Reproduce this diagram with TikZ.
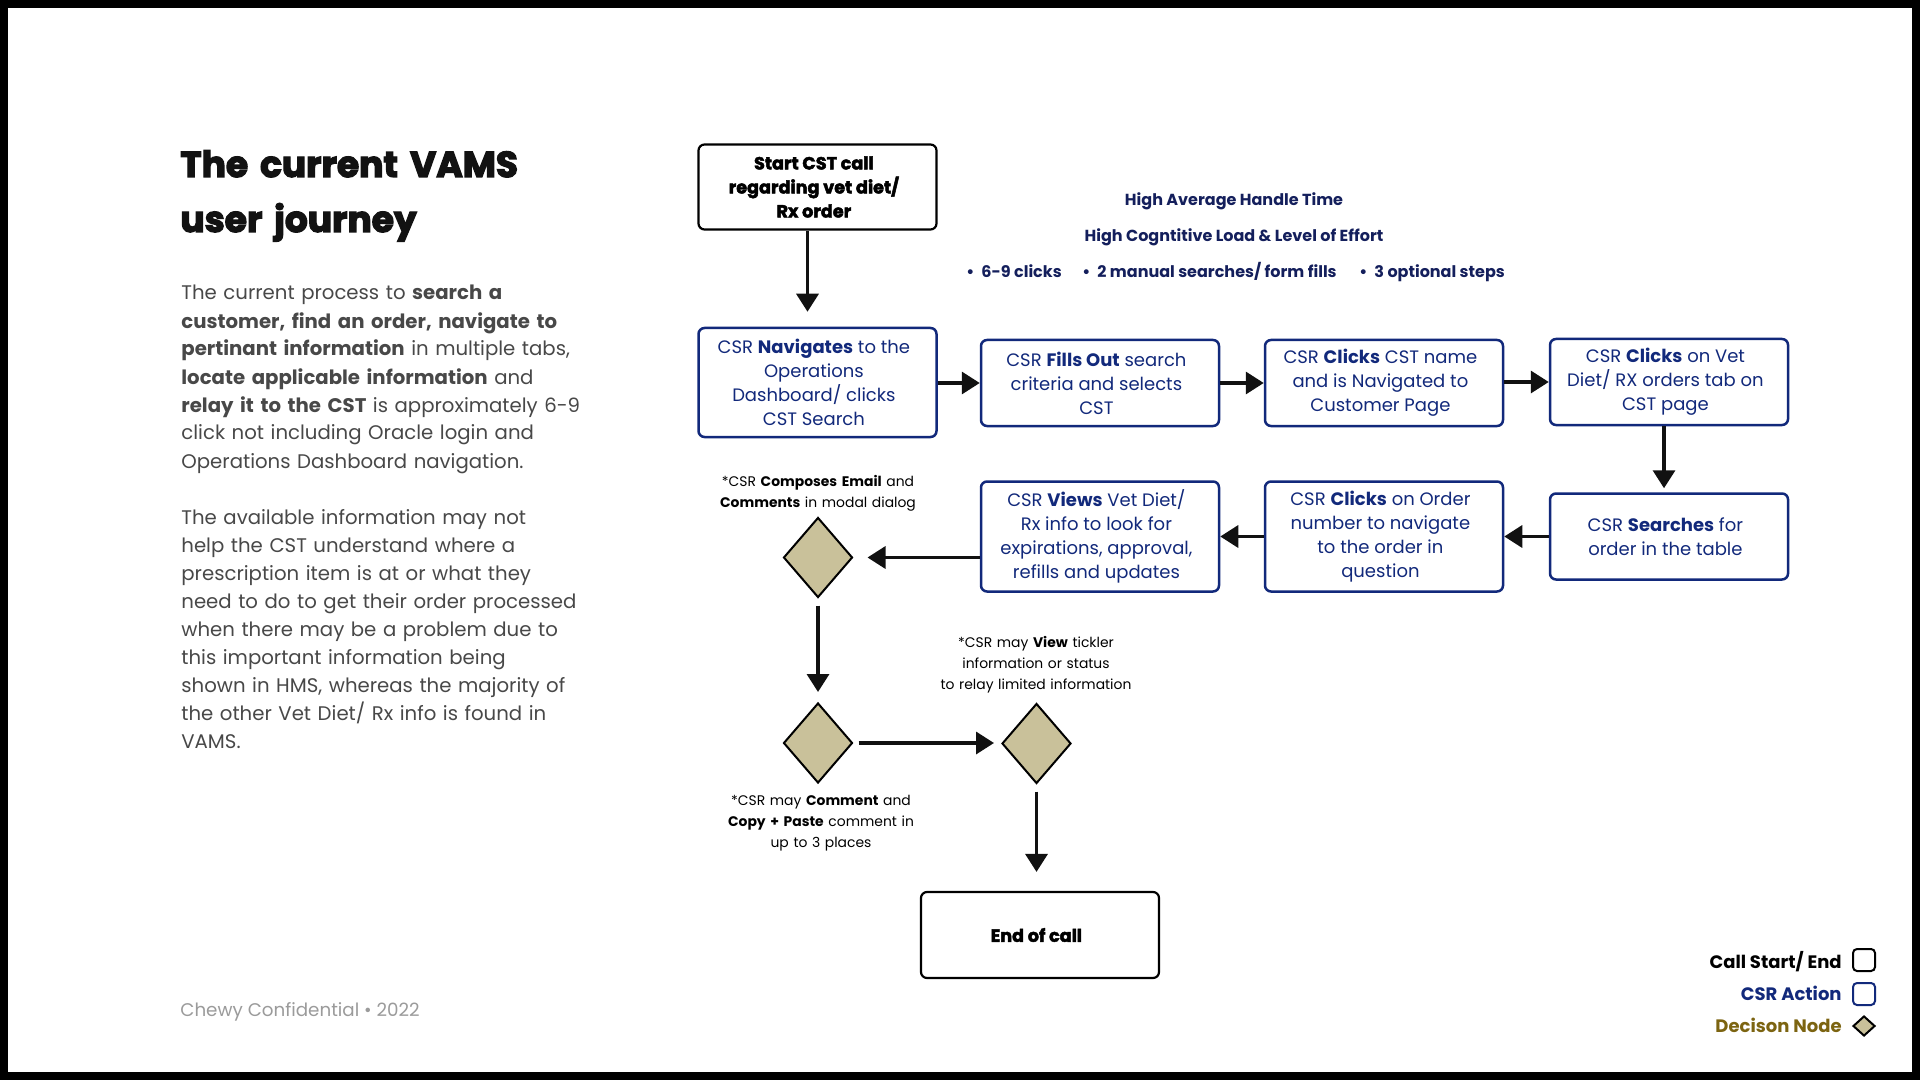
\documentclass[tikz,border=0pt]{standalone}
\usepackage{fontspec}
\setmainfont{Poppins}
\newfontfamily\heavyfont{Poppins}[FakeBold=2.6]
\newfontfamily\titlefont{Poppins}[FakeBold=3.6]
\usetikzlibrary{arrows.meta,shapes.geometric}
\definecolor{boxblue}{HTML}{12297B}
\definecolor{headblue}{HTML}{141F5C}
\definecolor{dectan}{HTML}{C9C19A}
\definecolor{olive}{HTML}{7C6411}
\definecolor{bodygray}{HTML}{484848}
\definecolor{footgray}{HTML}{9B9B9B}
\definecolor{arrowblack}{HTML}{111111}
\tikzset{
  csr/.style={draw=boxblue, line width=1.25pt, rounded corners=3pt,
    minimum width=119pt, inner sep=0pt},
  csrtext/.style={align=center, inner sep=0pt, xshift=-1.8pt, text=boxblue,
    font=\fontsize{9}{12}\selectfont},
  term/.style={draw=black, line width=1.1pt, rounded corners=3pt,
    minimum width=119pt, minimum height=43pt, inner sep=0pt},
  termtext/.style={align=center, inner sep=0pt, xshift=-1.8pt, text=black,
    font=\heavyfont\bfseries\fontsize{8.8}{12}\selectfont},
  dec/.style={diamond, draw=black, line width=1pt, fill=dectan, minimum width=34.5pt,
    minimum height=40pt, inner sep=0pt},
  conn/.style={line width=1.7pt, draw=arrowblack, -{Triangle[length=9pt,width=11pt]}},
  note/.style={align=center, text width=160pt, inner sep=0pt, anchor=base,
    font=\fontsize{6.95}{10.5}\selectfont},
  para/.style={align=left, text width=240pt, inner sep=0pt, anchor=base west, text=bodygray,
    font=\fontsize{9.85}{14}\selectfont},
  head/.style={inner sep=0pt, anchor=base, text=headblue, font=\bfseries\fontsize{8}{10}\selectfont},
  legtxt/.style={inner sep=0pt, anchor=base east, font=\bfseries\fontsize{9}{11}\selectfont},
}
\begin{document}
\begin{tikzpicture}[x=0.5pt,y=-0.5pt]
\fill[black] (0,0) rectangle (1920,1080);
\fill[white] (8,8) rectangle (1912,1072);
\useasboundingbox (0,0) rectangle (1920,1080);

% left column
\node[inner sep=0pt, anchor=base west, text=black!93, align=left, text width=240pt,
  font=\titlefont\bfseries\fontsize{18}{27.5}\selectfont] (title) at (180,177)
  {The current VAMS\\user journey};
\node[para] (p1) at (181,300) {The current process to \textbf{search a}\\
\textbf{customer, find an order, navigate to}\\
\textbf{pertinant information} in multiple tabs,\\
\textbf{locate applicable information} and\\
\textbf{relay it to the CST} is approximately 6-9\\
click not including Oracle login and\\
Operations Dashboard navigation.};
\node[para] (p2) at (181,524) {The available information may not\\
help the CST understand where a\\
prescription item is at or what they\\
need to do to get their order processed\\
when there may be a problem due to\\
this important information being\\
shown in HMS, whereas the majority of\\
the other Vet Diet/ Rx info is found in\\
VAMS.};
\node[inner sep=0pt, anchor=base west, text=footgray, font=\fontsize{9.15}{11}\selectfont] (foot)
  at (180,1016) {Chewy Confidential • 2022};

% header texts
\node[head] (h1) at (1234,206) {High Average Handle Time};
\node[head] (h2) at (1234,242) {High Cogntitive Load \& Level of Effort};
\node[head, anchor=base west] (b1) at (966,278) {•\hspace{3.5pt}6-9 clicks};
\node[head, anchor=base west] (b2) at (1082,278) {•\hspace{3.5pt}2 manual searches/ form fills};
\node[head, anchor=base west] (b3) at (1359,278) {•\hspace{3.5pt}3 optional steps};

% flow nodes
\node[term, minimum height=42.5pt, label={[termtext]center:{Start CST call\\regarding vet diet/\\Rx order}}] (start) at (817.5,187) {};
\node[csr, minimum height=54.5pt, label={[csrtext]center:{CSR \textbf{Navigates} to the\\Operations\\Dashboard/ clicks\\CST Search}}] (nav) at (817.5,382.5) {};
\node[csr, minimum height=43pt, label={[csrtext]center:{CSR \textbf{Fills Out} search\\criteria and selects\\CST}}] (fills) at (1100,383) {};
\node[csr, minimum height=43pt, label={[csrtext]center:{CSR \textbf{Clicks} CST name\\and is Navigated to\\Customer Page}}] (clickcst) at (1384,383) {};
\node[csr, minimum height=43pt, label={[csrtext]center:{CSR \textbf{Clicks} on Vet\\Diet/ RX orders tab on\\CST page}}] (clickvet) at (1669,382) {};
\node[csr, minimum height=43pt, label={[csrtext]center:{CSR \textbf{Searches} for\\order in the table}}] (searches) at (1669,536.5) {};
\node[csr, minimum height=55pt, label={[csrtext]center:{CSR \textbf{Clicks} on Order\\number to navigate\\to the order in\\question}}] (clickorder) at (1384,536.5) {};
\node[csr, minimum height=55pt, label={[csrtext]center:{CSR \textbf{Views} Vet Diet/\\Rx info to look for\\expirations, approval,\\refills and updates}}] (views) at (1100,536.5) {};
\node[dec] (d1) at (818,557.5) {};
\node[dec] (d2) at (818,743) {};
\node[dec] (d3) at (1036.5,743.5) {};
\node[term, label={[termtext]center:{End of call}}] (end) at (1040,935) {};

% notes
\node[note] (n1) at (818,486) {*CSR \textbf{Composes Email} and\\\textbf{Comments} in modal dialog};
\node[note] (n2) at (1036,647) {*CSR may \textbf{View} tickler\\information or status\\to relay limited information};
\node[note] (n3) at (821,805) {*CSR may \textbf{Comment} and\\\textbf{Copy + Paste} comment in\\up to 3 places};

% connectors
\draw[conn, shorten >=7.5pt] ([xshift=-5pt]start.south) -- ([xshift=-5pt]nav.north);
\draw[conn] (nav.east |- fills.west) -- (fills.west);
\draw[conn] (fills) -- (clickcst);
\draw[conn] (clickcst.east |- clickvet.west) -- (clickvet.west);
\draw[conn, shorten >=2pt] ([xshift=-2.5pt]clickvet.south) -- ([xshift=-2.5pt]searches.north);
\draw[conn] (searches) -- (clickorder);
\draw[conn] (clickorder) -- (views);
\draw[conn, shorten >=7pt] (views.west |- d1.east) -- (d1.east);
\draw[conn, shorten <=3.5pt, shorten >=5pt] (d1.south) -- (d2.north);
\draw[conn, shorten <=2.5pt, shorten >=3.5pt] (d2.east) -- (d2.east -| d3.west);
\draw[conn, shorten <=3.5pt, shorten >=9.5pt] (d3.south) -- (d3.south |- end.north);

% legend
\node[legtxt, text=black] (l1) at (1842,968) {Call Start/ End};
\node[legtxt, text=boxblue] (l2) at (1842,1000) {CSR Action};
\node[legtxt, text=olive] (l3) at (1842,1032) {Decison Node};
\node[draw=black, line width=1pt, rounded corners=2pt, minimum size=11pt, inner sep=0pt] (lk1) at (1864,960) {};
\node[draw=boxblue, line width=1pt, rounded corners=2pt, minimum size=11pt, inner sep=0pt] (lk2) at (1864,994) {};
\node[diamond, draw=black, line width=1pt, fill=dectan, minimum width=11pt, minimum height=10pt, inner sep=0pt] (lk3) at (1864,1026) {};
\end{tikzpicture}
\end{document}
